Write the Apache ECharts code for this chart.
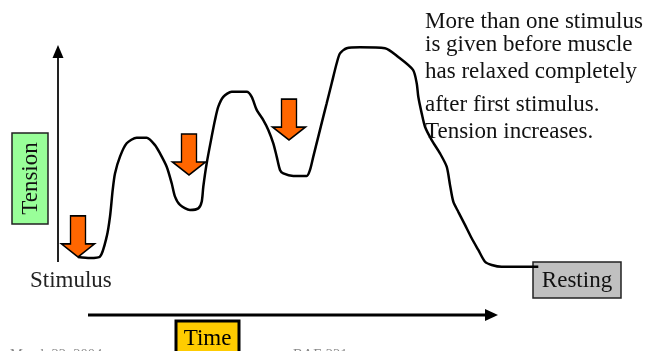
<!DOCTYPE html>
<html>
<head>
<meta charset="utf-8">
<script src="https://cdn.jsdelivr.net/npm/echarts@6/dist/echarts.min.js"></script>
<style>
html,body{margin:0;padding:0;background:#fff;}
#chart{width:650px;height:351px;}
</style>
</head>
<body>
<div id="chart"></div>
<script>
// Time (arbitrary units) and tension (0-100)
const timeValues = [20,32,42,48.7,52,54.7,57,62,68.7,78.7,88.7,97,102,108.7,113.7,117,122,132,140.3,143.7,145.3,148.7,153.7,157,160.3,165.3,173.7,188.7,193.7,198.7,205.3,210.3,215.3,218.7,222,225.3,235.3,248.7,252,255.3,260.3,265.3,268.7,273.7,278.7,282,288.7,302,327,340,355,358.7,360.3,363.7,367,373.7,382,388.7,392,395.3,400.3,407,413.7,420.3,427,433.7,443.7,480.3];
const tensionValues = [5.7,5.2,5.8,14.5,23.2,34.8,42.0,49.3,55.1,57.5,57.5,54.3,50.7,44.9,37.7,31.9,28.3,26.1,26.8,29.7,36.2,46.4,58.0,65.2,71.0,75.3,77.5,77.5,75.3,69.6,65.2,60.9,55.1,49.3,43.5,42.0,40.9,40.9,43.5,49.3,58.0,66.7,72.5,81.2,89.9,94.2,96.4,96.8,96.4,92.7,87.0,81.2,75.3,68.1,62.3,56.5,50.7,44.9,37.0,29.7,25.3,19.6,13.8,8.7,3.6,2.2,1.4,1.4];
// Stimulus moments (arrow tips)
const stimulusTimes = [20,131,231];
const stimulusTensions = [5.7,41.3,56.5];
// Texts
const yAxisTitle = 'Tension';
const xAxisTitle = 'Time';
const startLabel = 'Stimulus';
const endLabel = 'Resting';
const noteLines = ['More than one stimulus','is given before muscle','has relaxed completely','after first stimulus.','Tension increases.'];
const footerLeft = 'March 22, 2004';
const footerRight = 'BAE 221';

const FONT = '"Liberation Serif","DejaVu Serif",serif';
const chart = echarts.init(document.getElementById('chart'), null, {renderer:'canvas'});

const curve = timeValues.map((t,i)=>[t,tensionValues[i]]);
const stims = stimulusTimes.map((t,i)=>[t,stimulusTensions[i]]);
const noteY = [22,45,71.5,105,131.5];

const graphics = [];
// Y axis arrow
graphics.push({type:'line', shape:{x1:58,y1:56,x2:58,y2:262}, style:{stroke:'#222',lineWidth:2}, z:5});
graphics.push({type:'polygon', shape:{points:[[58,45],[52.5,58],[63.5,58]]}, style:{fill:'#000'}, z:5});
// X axis arrow
graphics.push({type:'line', shape:{x1:88,y1:315,x2:487,y2:315}, style:{stroke:'#000',lineWidth:3}, z:5});
graphics.push({type:'polygon', shape:{points:[[498,315],[485,309],[485,321]]}, style:{fill:'#000'}, z:5});
// Tension box
graphics.push({type:'rect', shape:{x:12,y:133,width:36,height:91}, style:{fill:'#99ff99',stroke:'#222',lineWidth:1.5}, z:5});
graphics.push({type:'text', x:31, y:178.5, rotation:Math.PI/2, style:{text:yAxisTitle, font:'23px '+FONT, fill:'#111', align:'center', verticalAlign:'middle'}, z:6});
// Stimulus label
graphics.push({type:'text', x:30, y:281, style:{text:startLabel, font:'23px '+FONT, fill:'#222', align:'left', verticalAlign:'middle'}, z:6});
// Time box
graphics.push({type:'rect', shape:{x:176,y:321,width:63,height:40}, style:{fill:'#ffcc00',stroke:'#000',lineWidth:3}, z:5});
graphics.push({type:'text', x:207.5, y:339, style:{text:xAxisTitle, font:'23px '+FONT, fill:'#000', align:'center', verticalAlign:'middle'}, z:6});
// Resting box
graphics.push({type:'rect', shape:{x:533,y:262,width:88,height:36}, style:{fill:'#c0c0c0',stroke:'#222',lineWidth:1.5}, z:1});
graphics.push({type:'text', x:577, y:281, style:{text:endLabel, font:'23px '+FONT, fill:'#111', align:'center', verticalAlign:'middle'}, z:6});
// Notes
noteLines.forEach((s,i)=>{
  graphics.push({type:'text', x:425, y:noteY[i], style:{text:s, font:'23px '+FONT, fill:'#111', align:'left', verticalAlign:'middle'}, z:6});
});
// Footer (cut off at bottom)
graphics.push({type:'text', x:10, y:355, style:{text:footerLeft, font:'14.5px '+FONT, fill:'#888', align:'left', verticalAlign:'middle'}, z:6});
graphics.push({type:'text', x:293, y:355, style:{text:footerRight, font:'14.5px '+FONT, fill:'#888', align:'left', verticalAlign:'middle'}, z:6});

chart.setOption({
  animation:false,
  backgroundColor:'#ffffff',
  grid:{left:58, width:480, top:40, height:230},
  xAxis:{type:'value', min:0, max:480, show:false},
  yAxis:{type:'value', min:0, max:100, show:false},
  series:[
    {type:'line', data:curve, smooth:0.25, symbol:'none', z:3,
     lineStyle:{color:'#000', width:2.5}},
    {type:'scatter', data:stims, z:4,
     symbol:'path://M9,0 L24,0 L24,28 L33,28 L16.5,41 L0,28 L9,28 Z',
     symbolSize:[33,41], symbolOffset:[0,'-50%'],
     itemStyle:{color:'#ff6600', opacity:1, borderColor:'#000', borderWidth:1.5}}
  ],
  graphic:graphics
});
</script>
</body>
</html>
